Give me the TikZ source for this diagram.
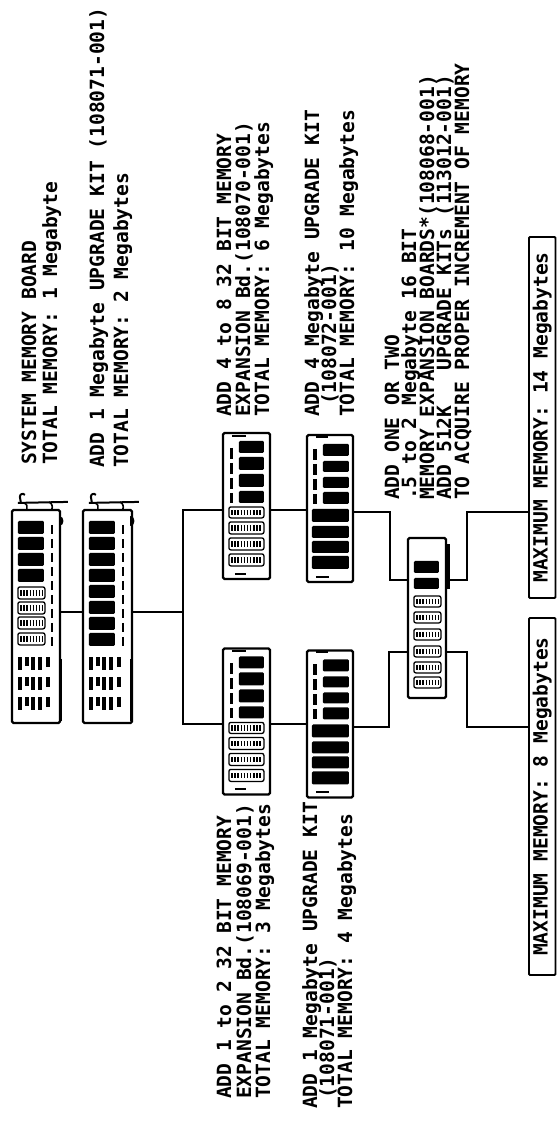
\documentclass[tikz,border=0pt]{standalone}
\usepackage{fontspec}
\newfontfamily\plotfont{DejaVu Sans Mono}
\newcommand\chipF[4]{\fill[rounded corners=1.2pt] (#1,#2) rectangle (#3,#4);}
\newcommand\chipS[4]{\draw[line width=1.3pt, rounded corners=2pt] (#1,#2) rectangle (#3,#4);
  \draw[line width=5.5pt, dash pattern=on 1.6pt off 1.5pt] ({#1+2.3},{(#2+#4)/2}) -- ({#3-2.3},{(#2+#4)/2});}
\newcommand\pinrow[1]{\foreach \px/\ph in {7/13,14/9,20/13,27/13,35/10}{\fill (\px,#1) rectangle ++(3.6,\ph);}}
\newcommand\bracketbits{%
  \draw[line width=2pt] (7,-6) -- (57,-7);
  \draw[line width=2pt] (10,-6) -- (9,-12) .. controls (9,-15) and (12,-16) .. (14,-14);
  \draw[line width=1.6pt] (13,-6) .. controls (16,-5) and (17,-2) .. (16,0);
  \draw[line width=1.6pt] (38,-7) .. controls (41,-6) and (42,-2) .. (41,0);
  \fill (48,7) .. controls (54,7) and (54,17) .. (48,17) -- cycle;
  \draw[line width=3pt] (49.5,150) -- (49.5,212);
  \draw[line width=2.3pt, dash pattern=on 9pt off 5pt] (41,16) -- (41,139);
  \pinrow{148}\pinrow{168}\pinrow{188}}
\newcommand\thirtytwoA{%
  \draw[line width=2pt] (10,4) -- (24,4);
  \draw[line width=3.5pt, dash pattern=on 11pt off 4pt] (9.5,16) -- (9.5,71);
  \chipF{17}{9}{42}{21}\chipF{17}{25}{42}{38}\chipF{17}{42}{42}{55}\chipF{17}{59}{42}{71}
  \chipS{7}{75}{42}{86}\chipS{7}{90}{42}{102}\chipS{7}{106}{42}{118}\chipS{7}{122}{42}{134}
  \draw[line width=2pt] (13,142) -- (24,142);}
\newcommand\fourmeg{%
  \draw[line width=2pt] (10,3) -- (22,3);
  \draw[line width=3.5pt, dash pattern=on 11pt off 4pt] (9,15) -- (9,70);
  \chipF{17}{10}{43}{22}\chipF{17}{27}{43}{38}\chipF{17}{43}{43}{54}\chipF{17}{58}{43}{70}
  \chipF{6}{75}{43}{88}\chipF{6}{92}{43}{104}\chipF{6}{107}{43}{119}\chipF{6}{122}{43}{135}
  \draw[line width=2pt] (10,143) -- (23,143);}
\tikzset{
  board/.style={draw, line width=2.2pt, rounded corners=1.5pt, inner sep=0pt},
  lbl/.style={rotate=90, anchor=base west, inner sep=0pt, font={\fontsize{19.6}{20}\selectfont\plotfont\bfseries}},
  mbox/.style={draw, line width=1.8pt, rounded corners=1pt, rotate=90, inner sep=0pt, minimum height=26.5pt, font={\fontsize{19.6}{20}\selectfont\plotfont\bfseries}},
  conn/.style={line width=2pt}
}
\begin{document}
\begin{tikzpicture}[x=1pt, y=-1pt]
\useasboundingbox (0,0) rectangle (557,1144);
\fill[white] (0,0) rectangle (557,1144);
% boards
\node[board, minimum width=48pt, minimum height=213pt] (b1) at (36,616.5) {};
\node[board, minimum width=49pt, minimum height=213pt] (b2) at (107.5,616.5) {};
\node[board, minimum width=47pt, minimum height=146pt] (bA) at (246.5,506) {};
\node[board, minimum width=46pt, minimum height=147pt] (bB) at (330,508.5) {};
\node[board, minimum width=47pt, minimum height=146pt] (bC) at (246.5,721.5) {};
\node[board, minimum width=46pt, minimum height=147pt] (bD) at (330,724) {};
\node[board, minimum width=38pt, minimum height=160pt] (b16) at (427,618) {};
% board details
\begin{scope}[shift={(b1.north west)}]
  \bracketbits
  \chipF{7}{12}{33}{25}\chipF{7}{28}{33}{41}\chipF{7}{44}{33}{57}\chipF{7}{60}{33}{73}
  \chipS{7}{78}{34}{90}\chipS{7}{93}{34}{105}\chipS{7}{108}{34}{120}\chipS{7}{124}{34}{136}
\end{scope}
\begin{scope}[shift={(b2.north west)}]
  \bracketbits
  \foreach \i in {0,...,7}{\chipF{7}{12+16*\i}{33}{25+16*\i}}
\end{scope}
\begin{scope}[shift={(bA.north west)}]\thirtytwoA\end{scope}
\begin{scope}[shift={(bC.north west)}]\thirtytwoA\end{scope}
\begin{scope}[shift={(bB.north west)}]\fourmeg\end{scope}
\begin{scope}[shift={(bD.north west)}]\fourmeg\end{scope}
\begin{scope}[shift={(b16.north west)}]
  \fill (38,7) rectangle (43,52);
  \chipF{7}{24}{32}{36}\chipF{7}{41}{32}{52}
  \chipS{7}{59}{34}{70}\chipS{7}{75}{34}{86}\chipS{7}{92}{34}{103}\chipS{7}{109}{34}{120}\chipS{7}{125}{34}{136}\chipS{7}{140}{34}{151}
\end{scope}
% maximum boxes
\node[mbox, minimum width=361pt] (m14) at (542.25,417.5) {MAXIMUM MEMORY: 14 Megabytes};
\node[mbox, minimum width=357pt] (m8) at (542.25,796.5) {MAXIMUM MEMORY: 8 Megabytes};
% connectors
\coordinate (jL) at (183,612);
\coordinate (vtop) at (183,510);
\coordinate (vbot) at (183,724);
\coordinate (u1) at (390,512);
\coordinate (u2) at (390,580);
\coordinate (l1) at (389,727);
\coordinate (l2) at (389,652);
\coordinate (r1) at (467,580);
\coordinate (r2) at (467,512);
\coordinate (r3) at (467,652);
\coordinate (r4) at (467,727);
\draw[conn] (b1.east |- jL) -- (b2.west |- jL);
\draw[conn] (b2.east |- jL) -- (jL);
\draw[conn] (bA.west |- vtop) -- (vtop) -- (vbot) -- (bC.west |- vbot);
\draw[conn] (bA.east |- vtop) -- (bB.west |- vtop);
\draw[conn] (bC.east |- vbot) -- (bD.west |- vbot);
\draw[conn] (bB.east |- u1) -- (u1) -- (u2) -- (b16.west |- u2);
\draw[conn] (bD.east |- l1) -- (l1) -- (l2) -- (b16.west |- l2);
\draw[conn] (b16.east |- r1) -- (r1) -- (r2) -- (m14.north |- r2);
\draw[conn] (b16.east |- r3) -- (r3) -- (r4) -- (m8.north |- r4);
% labels
\node[lbl] (t1a) at (36,465) {SYSTEM MEMORY BOARD};
\node[lbl] (t1b) at (57,465) {TOTAL MEMORY: 1 Megabyte};
\node[lbl] (t2a) at (104,468) {ADD 1 Megabyte UPGRADE KIT (108071-001)};
\node[lbl] (t2b) at (128,468) {TOTAL MEMORY: 2 Megabytes};
\node[lbl] (t3a) at (231,417) {ADD 4 to 8 32 BIT MEMORY};
\node[lbl] (t3b) at (250,417) {EXPANSION Bd.(108070-001)};
\node[lbl] (t3c) at (269,417) {TOTAL MEMORY: 6 Megabytes};
\node[lbl] (t4a) at (319,417) {ADD 4 Megabyte UPGRADE KIT};
\node[lbl] (t4b) at (336,405) {(108072-001)};
\node[lbl] (t4c) at (354,417) {TOTAL MEMORY: 10 Megabytes};
\node[lbl] (t5a) at (399,500) {ADD ONE OR TWO};
\node[lbl] (t5b) at (416,500) {.5 to 2 Megabyte 16 BIT};
\node[lbl] (t5c) at (434,500) {MEMORY EXPANSION BOARDS*(108068-001)};
\node[lbl] (t5d) at (451,500) {ADD 512K\ \ \ UPGRADE KITs (113012-001)};
\node[lbl] (t5e) at (469,500) {TO ACQUIRE PROPER INCREMENT OF MEMORY};
\node[lbl] (t6a) at (231,1099) {ADD 1 to 2 32 BIT MEMORY};
\node[lbl] (t6b) at (251,1099) {EXPANSION Bd.(108069-001)};
\node[lbl] (t6c) at (270,1099) {TOTAL MEMORY: 3 Megabytes};
\node[lbl] (t7a) at (317,1109) {ADD 1 Megabyte UPGRADE KIT};
\node[lbl] (t7b) at (334,1099) {(108071-001)};
\node[lbl] (t7c) at (352,1109) {TOTAL MEMORY: 4 Megabytes};
\end{tikzpicture}
\end{document}
